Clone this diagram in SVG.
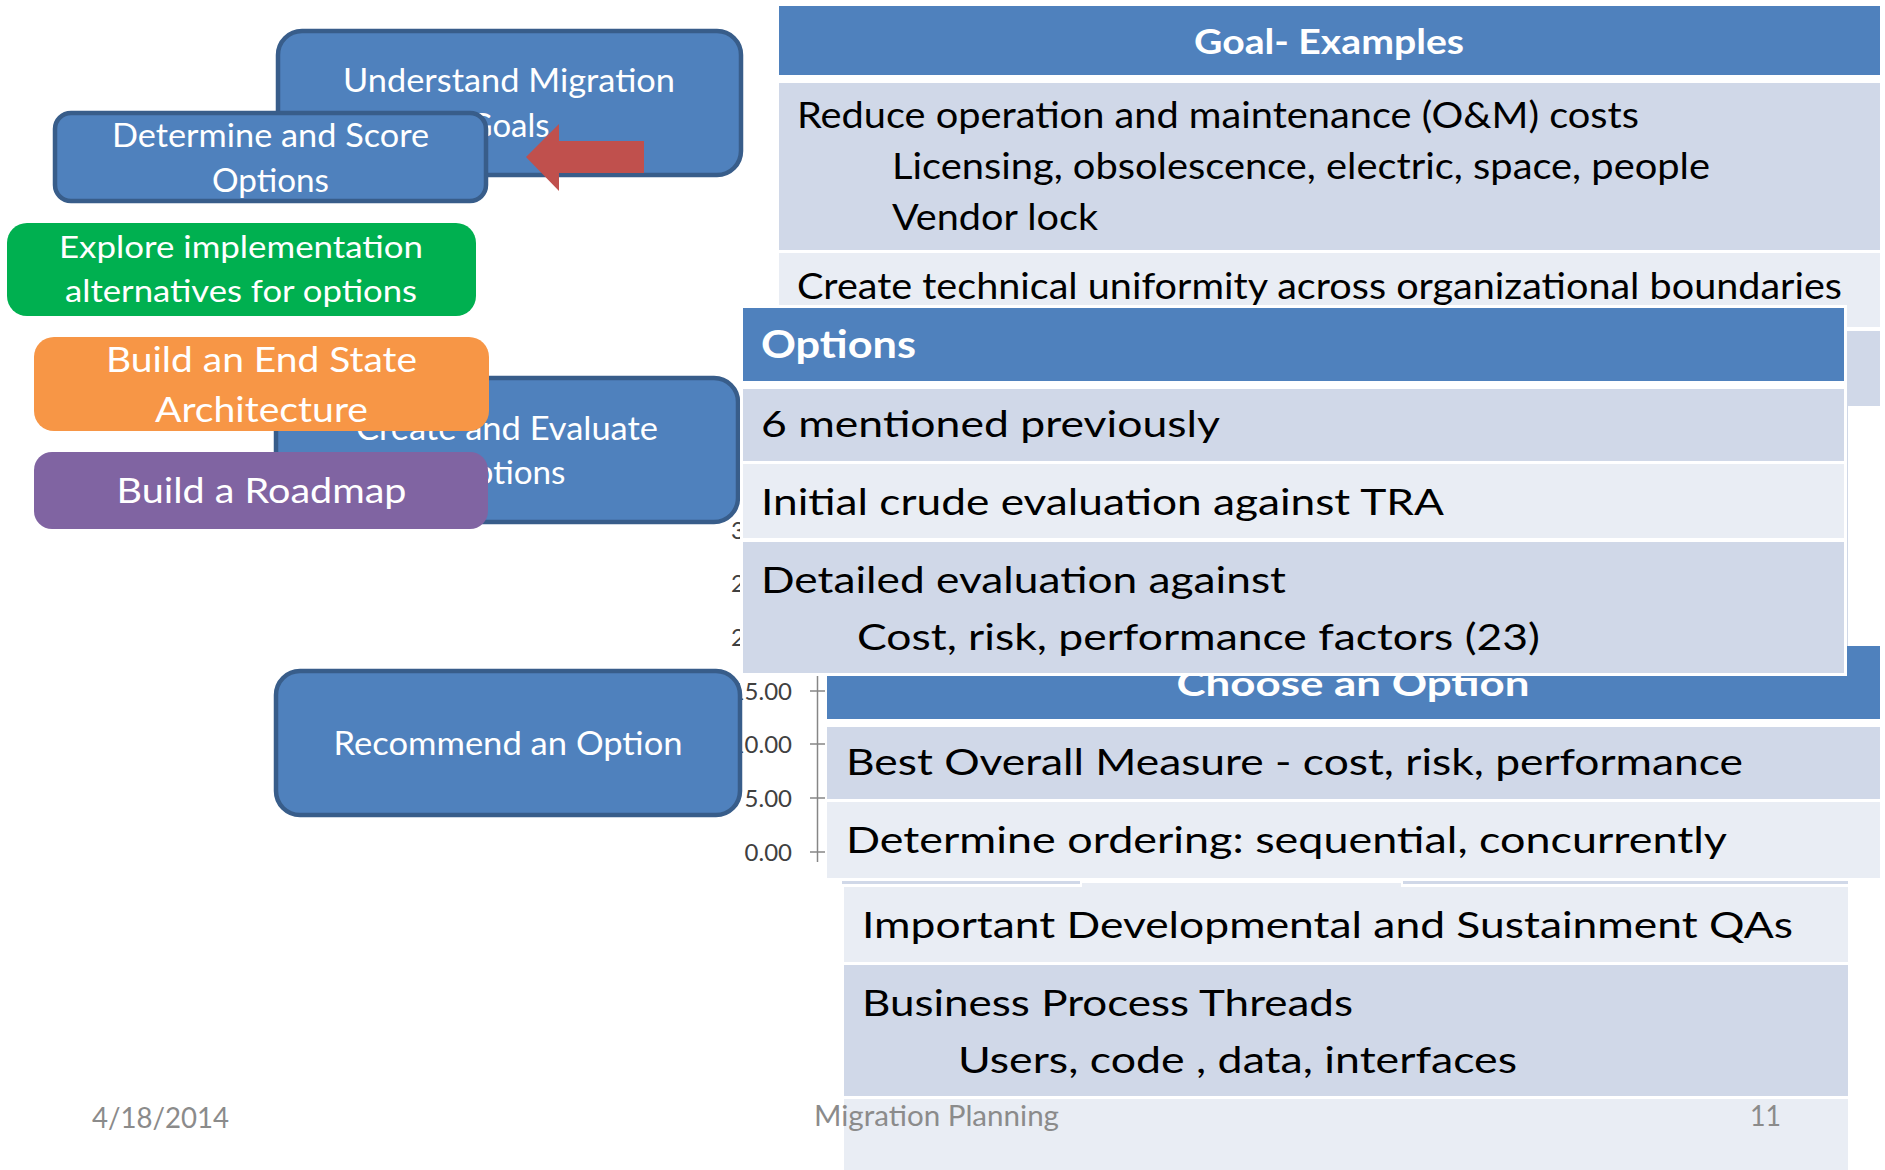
<svg xmlns="http://www.w3.org/2000/svg" width="1885" height="1170" viewBox="0 0 1885 1170">
  <style>
    text { font-family: Lato, "Open Sans", "Liberation Sans", sans-serif; }
    .step { fill: #4f81bd; stroke: #385d8a; stroke-width: 4.5; }
    .lbl { fill: #ffffff; font-size: 32px; text-anchor: middle; }
    .lbl-lg { fill: #ffffff; font-size: 35px; text-anchor: middle; }
    .hdr { fill: #4f81bd; }
    .dark { fill: #d0d8e8; }
    .light { fill: #e9edf4; }
    .htxt { fill: #ffffff; font-weight: bold; font-size: 35px; }
    .cell { fill: #000000; font-size: 36px; }
    .axis { stroke: #868686; stroke-width: 1.5; fill: none; }
    .tick { fill: #404040; font-size: 24px; text-anchor: end; }
    .tick-cut { fill: #404040; font-size: 24px; }
    .foot { fill: #8b8b8b; font-size: 29px; }
  </style>

  <!-- background -->
  <rect x="0" y="0" width="1885" height="1170" fill="#ffffff"/>

  <!-- goal examples table -->
  <g id="goal-examples">
    <rect class="hdr" x="779" y="6" width="1101" height="69"/>
    <rect class="dark" x="779" y="83" width="1101" height="167"/>
    <rect class="light" x="779" y="253" width="1101" height="74"/>
    <rect class="dark" x="779" y="331" width="1101" height="75"/>
    <text class="htxt" x="1329" y="54" text-anchor="middle" textLength="270" lengthAdjust="spacingAndGlyphs">Goal- Examples</text>
    <text class="cell" x="797" y="128" textLength="842" lengthAdjust="spacingAndGlyphs">Reduce operation and maintenance (O&amp;M) costs</text>
    <text class="cell" x="892" y="179" textLength="818" lengthAdjust="spacingAndGlyphs">Licensing, obsolescence, electric, space, people</text>
    <text class="cell" x="892" y="230" textLength="206" lengthAdjust="spacingAndGlyphs">Vendor lock</text>
    <text class="cell" x="797" y="299" textLength="1045" lengthAdjust="spacingAndGlyphs">Create technical uniformity across organizational boundaries</text>
  </g>
  <line x1="1847" y1="406" x2="1847" y2="646" stroke="#d0d8e8" stroke-width="2"/>

  <!-- chart value axis (upper labels mostly hidden, only their leading digit shows) -->
  <g id="chart-axis">
    <line class="axis" x1="817.5" y1="676" x2="817.5" y2="862"/>
    <path class="axis" d="M810 691H825M810 744H825M810 798H825M810 852H825"/>
    <text class="tick-cut" x="731" y="539">3</text>
    <text class="tick-cut" x="731" y="592">2</text>
    <text class="tick-cut" x="731" y="646">2</text>
    <text class="tick" x="792" y="700">15.00</text>
    <text class="tick" x="792" y="753">10.00</text>
    <text class="tick" x="792" y="807">5.00</text>
    <text class="tick" x="792" y="861">0.00</text>
  </g>

  <!-- process steps -->
  <g id="understand-goals">
    <rect class="step" x="278" y="31" width="463" height="144" rx="24"/>
    <text class="lbl" x="509" y="92" textLength="332" lengthAdjust="spacingAndGlyphs">Understand Migration</text>
    <text class="lbl" x="509" y="137" textLength="81" lengthAdjust="spacingAndGlyphs">Goals</text>
  </g>
  <g id="determine-options">
    <rect class="step" x="55" y="113" width="431" height="88" rx="16"/>
    <text class="lbl" x="270.5" y="147" textLength="317" lengthAdjust="spacingAndGlyphs">Determine and Score</text>
    <text class="lbl" x="270.5" y="192" textLength="117" lengthAdjust="spacingAndGlyphs">Options</text>
  </g>
  <g id="explore-alternatives">
    <rect x="7" y="223" width="469" height="93" rx="20" fill="#00b050"/>
    <text class="lbl" x="241" y="258" style="font-size:30px" textLength="364" lengthAdjust="spacingAndGlyphs">Explore implementation</text>
    <text class="lbl" x="241" y="302" style="font-size:30px" textLength="352" lengthAdjust="spacingAndGlyphs">alternatives for options</text>
  </g>
  <g id="create-evaluate">
    <rect class="step" x="276" y="378" width="462" height="144" rx="24"/>
    <text class="lbl" x="507" y="440" textLength="302" lengthAdjust="spacingAndGlyphs">Create and Evaluate</text>
    <text class="lbl" x="507" y="484" textLength="117" lengthAdjust="spacingAndGlyphs">Options</text>
  </g>
  <g id="end-state">
    <rect x="34" y="337" width="455" height="94" rx="20" fill="#f79646"/>
    <text class="lbl-lg" x="261.5" y="372" textLength="311" lengthAdjust="spacingAndGlyphs">Build an End State</text>
    <text class="lbl-lg" x="261.5" y="422" textLength="213" lengthAdjust="spacingAndGlyphs">Architecture</text>
  </g>
  <g id="roadmap">
    <rect x="34" y="452" width="454" height="77" rx="18" fill="#8064a2"/>
    <text class="lbl-lg" x="261.5" y="503" textLength="290" lengthAdjust="spacingAndGlyphs">Build a Roadmap</text>
  </g>
  <g id="recommend-option">
    <rect class="step" x="276" y="671" width="464" height="144" rx="24"/>
    <text class="lbl" x="508" y="755" textLength="349" lengthAdjust="spacingAndGlyphs">Recommend an Option</text>
  </g>

  <!-- connectors -->
  <g id="connectors">
    <polygon points="526,157 559,124 559,141 644,141 644,173 559,173 559,191" fill="#c0504d"/>
  </g>

  <!-- choose an option table -->
  <g id="choose-option">
    <rect class="hdr" x="827" y="646" width="1053" height="73"/>
    <rect class="dark" x="827" y="727" width="1053" height="72"/>
    <rect class="light" x="827" y="802" width="1053" height="76"/>
    <text class="htxt" x="1353" y="696" text-anchor="middle" textLength="353" lengthAdjust="spacingAndGlyphs">Choose an Option</text>
    <text class="cell" x="846" y="775" style="font-size:37px" textLength="897" lengthAdjust="spacingAndGlyphs">Best Overall Measure - cost, risk, performance</text>
    <text class="cell" x="846" y="853" style="font-size:37px" textLength="881" lengthAdjust="spacingAndGlyphs">Determine ordering: sequential, concurrently</text>
  </g>

  <!-- qualities and threads table -->
  <g id="qualities-threads">
    <rect class="dark" x="842" y="881" width="1006" height="3"/>
    <rect class="light" x="1081" y="882" width="321" height="11" stroke="#ffffff" stroke-width="2"/>
    <rect class="light" x="844" y="887" width="1004" height="75"/>
    <rect class="dark" x="844" y="965" width="1004" height="131"/>
    <rect class="light" x="844" y="1099" width="1004" height="71"/>
    <text class="cell" x="862" y="938" style="font-size:37px" textLength="931" lengthAdjust="spacingAndGlyphs">Important Developmental and Sustainment QAs</text>
    <text class="cell" x="862" y="1016" style="font-size:37px" textLength="491" lengthAdjust="spacingAndGlyphs">Business Process Threads</text>
    <text class="cell" x="958" y="1073" style="font-size:37px" textLength="559" lengthAdjust="spacingAndGlyphs">Users, code , data, interfaces</text>
  </g>

  <!-- options table -->
  <g id="options">
    <rect x="740" y="305" width="1107" height="371" fill="#ffffff"/>
    <rect class="hdr" x="743" y="308" width="1101" height="73"/>
    <rect class="dark" x="743" y="389" width="1101" height="72"/>
    <rect class="light" x="743" y="464" width="1101" height="74"/>
    <rect class="dark" x="743" y="542" width="1101" height="131"/>
    <text class="htxt" x="761" y="358" style="font-size:39px" textLength="155" lengthAdjust="spacingAndGlyphs">Options</text>
    <text class="cell" x="761" y="437" style="font-size:37px" textLength="459" lengthAdjust="spacingAndGlyphs">6 mentioned previously</text>
    <text class="cell" x="761" y="515" style="font-size:37px" textLength="683" lengthAdjust="spacingAndGlyphs">Initial crude evaluation against TRA</text>
    <text class="cell" x="761" y="593" style="font-size:37px" textLength="525" lengthAdjust="spacingAndGlyphs">Detailed evaluation against</text>
    <text class="cell" x="857" y="650" style="font-size:37px" textLength="683" lengthAdjust="spacingAndGlyphs">Cost, risk, performance factors (23)</text>
  </g>

  <!-- footer -->
  <g id="footer">
    <text class="foot" x="92" y="1128" textLength="137" lengthAdjust="spacingAndGlyphs">4/18/2014</text>
    <text class="foot" x="814" y="1126" textLength="245" lengthAdjust="spacingAndGlyphs">Migration Planning</text>
    <text class="foot" x="1750" y="1126" textLength="31" lengthAdjust="spacingAndGlyphs">11</text>
  </g>
</svg>
